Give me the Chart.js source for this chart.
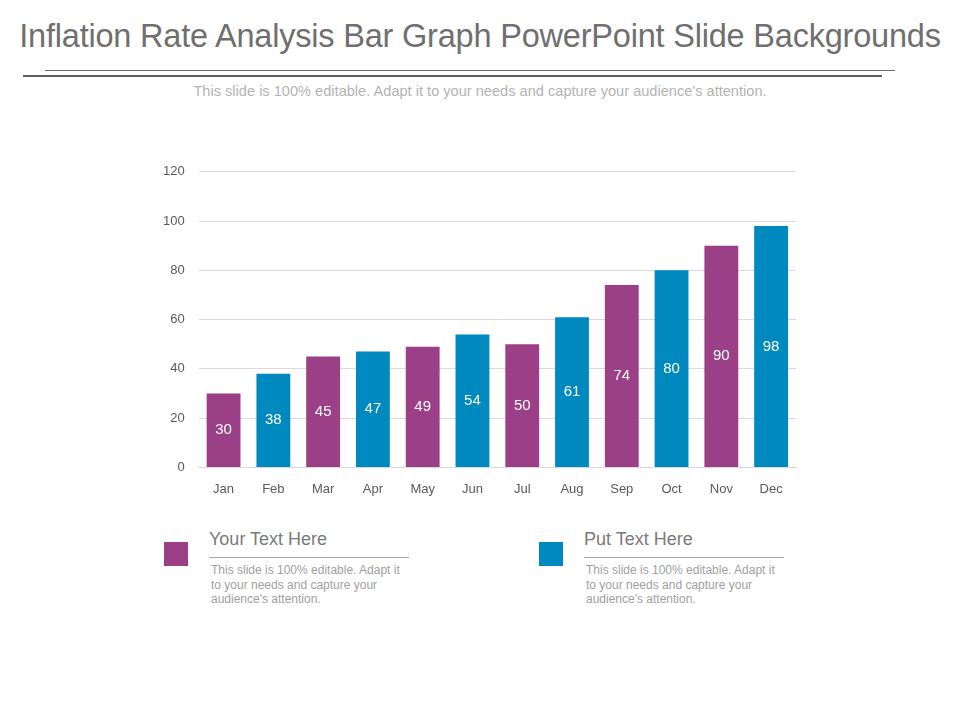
<!DOCTYPE html>
<html>
<head>
<meta charset="utf-8">
<script src="https://cdn.jsdelivr.net/npm/chart.js@4/dist/chart.umd.min.js"></script>
<style>
  body { margin: 0; width: 960px; height: 720px; background: #fff; font-family: Arial, "Liberation Sans", sans-serif; position: relative; overflow: hidden; }
  .title { position: absolute; top: 18px; left: 0; width: 960px; text-align: center; font-size: 32.5px; color: #6f6f6f; letter-spacing: -0.2px; }
  .rule1 { position: absolute; top: 70px; left: 45px; width: 850px; height: 1px; background: #6a6a6a; }
  .rule2 { position: absolute; top: 75px; left: 23px; width: 859px; height: 2px; background: #5f5f5f; }
  .sub { position: absolute; top: 83px; left: 0; width: 960px; text-align: center; font-size: 14.6px; color: #b3b3b3; }
  #wrap { position: absolute; left: 139px; top: 150px; width: 671px; height: 353px; }
  .sq { position: absolute; width: 24px; height: 24px; }
  .head { position: absolute; font-size: 18px; color: #7a7a7a; }
  .line { position: absolute; height: 1px; background: #a6a6a6; }
  .body { position: absolute; font-size: 12px; line-height: 14.5px; color: #a0a0a0; width: 200px; }
</style>
</head>
<body>
<div class="title">Inflation Rate Analysis Bar Graph PowerPoint Slide Backgrounds</div>
<div class="rule1"></div>
<div class="rule2"></div>
<div class="sub">This slide is 100% editable. Adapt it to your needs and capture your audience's attention.</div>

<div id="wrap"><canvas id="myChart"></canvas></div>

<div class="sq" style="left:164px;top:542px;background:#9b4087"></div>
<div class="head" style="left:209px;top:529px">Your Text Here</div>
<div class="line" style="left:209px;top:557px;width:200px"></div>
<div class="body" style="left:211px;top:563px">This slide is 100% editable. Adapt it to your needs and capture your audience's attention.</div>

<div class="sq" style="left:539px;top:542px;background:#0089be"></div>
<div class="head" style="left:584px;top:529px">Put Text Here</div>
<div class="line" style="left:584px;top:557px;width:200px"></div>
<div class="body" style="left:586px;top:563px">This slide is 100% editable. Adapt it to your needs and capture your audience's attention.</div>

<script>
const months = ['Jan', 'Feb', 'Mar', 'Apr', 'May', 'Jun', 'Jul', 'Aug', 'Sep', 'Oct', 'Nov', 'Dec'];
const inflation = [30, 38, 45, 47, 49, 54, 50, 61, 74, 80, 90, 98];
const yTicks = [0, 20, 40, 60, 80, 100, 120];

// odd months purple, even months blue
const barColors = months.map((m, i) => i % 2 === 0 ? '#9b4087' : '#0089be');

// write the value in the middle of each bar
const midLabels = {
  id: 'midLabels',
  afterDatasetsDraw(chart) {
    const ctx = chart.ctx;
    const meta = chart.getDatasetMeta(0);
    ctx.save();
    ctx.fillStyle = '#ffffff';
    ctx.font = '15px Arial, "Liberation Sans", sans-serif';
    ctx.textAlign = 'center';
    ctx.textBaseline = 'middle';
    meta.data.forEach((bar, i) => {
      ctx.fillText(inflation[i], bar.x, (bar.y + bar.base) / 2);
    });
    ctx.restore();
  }
};

window.ctx = new Chart(document.getElementById('myChart'), {
  type: 'bar',
  data: {
    labels: months,
    datasets: [{
      label: 'Inflation',
      data: inflation,
      backgroundColor: barColors,
      categoryPercentage: 1,
      barPercentage: 0.68
    }]
  },
  options: {
    responsive: true,
    maintainAspectRatio: false,
    animation: false,
    layout: { padding: { top: 12, right: 14, left: 10 } },
    plugins: { legend: { display: false }, tooltip: { enabled: false } },
    scales: {
      x: {
        grid: { display: false },
        border: { color: '#d9d9d9' },
        ticks: { color: '#595959', font: { size: 13, family: 'Arial, "Liberation Sans", sans-serif' }, padding: 6 }
      },
      y: {
        min: 0,
        max: 120,
        afterBuildTicks(axis) { axis.ticks = yTicks.map(v => ({ value: v })); },
        grid: { color: '#d9d9d9', drawTicks: false },
        border: { display: false },
        ticks: { color: '#595959', font: { size: 13, family: 'Arial, "Liberation Sans", sans-serif' }, padding: 14 }
      }
    }
  },
  plugins: [midLabels]
});
</script>
</body>
</html>
